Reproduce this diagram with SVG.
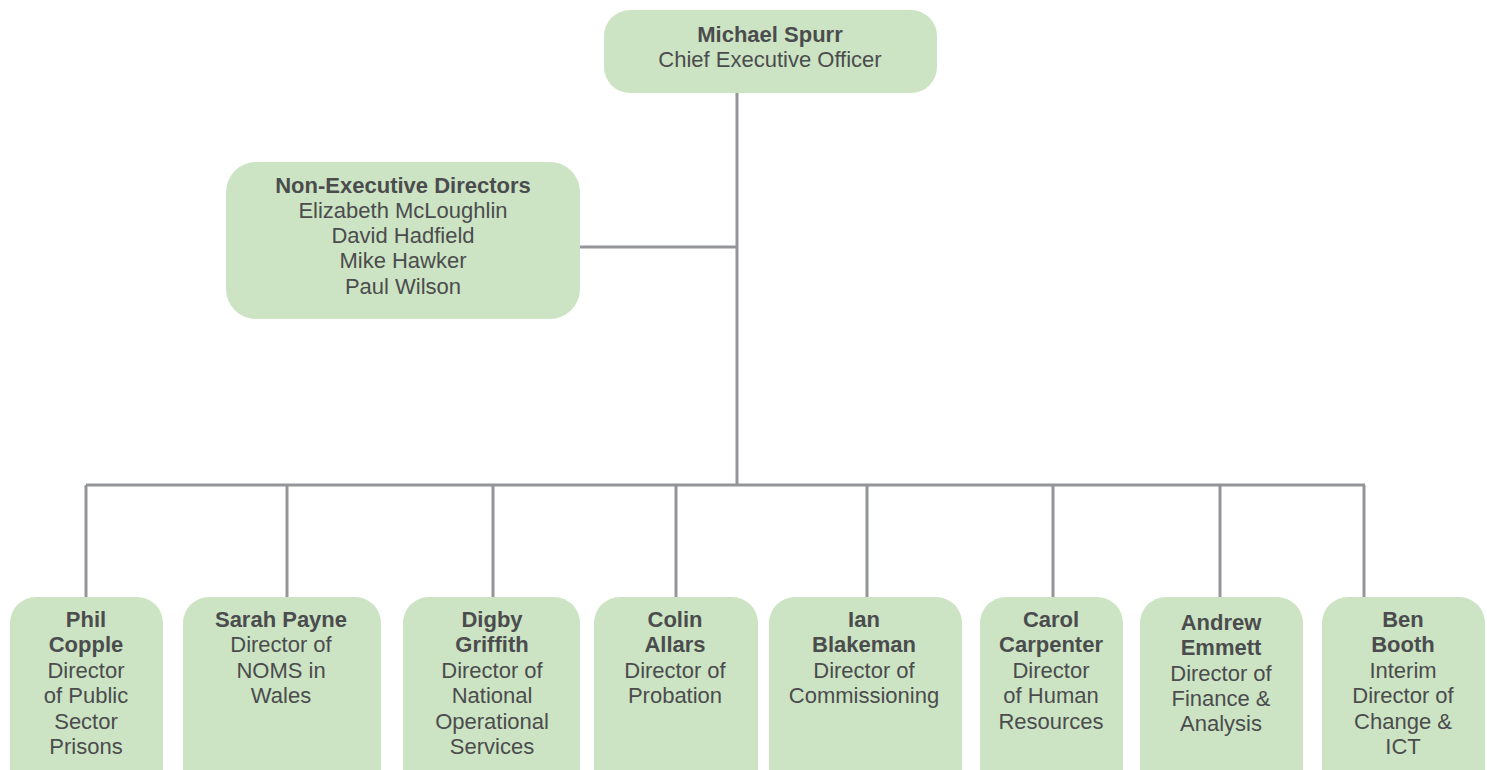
<svg xmlns="http://www.w3.org/2000/svg" width="1487" height="770" viewBox="0 0 1487 770">
<style>
.box{fill:#cce4c3;}
.t{font-family:"Liberation Sans",Arial,sans-serif;font-size:22px;fill:#4b4c4e;text-anchor:middle;}
.b{font-weight:bold;}
.ln{stroke:#939598;stroke-width:3;fill:none;}
</style>
<rect width="1487" height="770" fill="#ffffff"/>
<g id="connectors">
<path class="ln" d="M737 93 V485"/>
<path class="ln" d="M580 247 H737"/>
<path class="ln" d="M86 485 H1365"/>
<path class="ln" d="M86 485 V597 M287 485 V597 M493 485 V597 M676 485 V597 M867 485 V597 M1053 485 V597 M1220 485 V597 M1364 485 V597"/>
</g>
<g id="ceo">
<rect class="box" x="604" y="10" width="333" height="83" rx="26"/>
<text class="t b" x="770" y="42">Michael Spurr</text>
<text class="t" x="770" y="67">Chief Executive Officer</text>
</g>
<g id="ned">
<rect class="box" x="226" y="162" width="354" height="157" rx="30"/>
<text class="t b" x="403" y="193">Non-Executive Directors</text>
<text class="t" x="403" y="218">Elizabeth McLoughlin</text>
<text class="t" x="403" y="243">David Hadfield</text>
<text class="t" x="403" y="268">Mike Hawker</text>
<text class="t" x="403" y="294">Paul Wilson</text>
</g>
<g id="copple">
<rect class="box" x="10" y="597" width="153" height="200" rx="26"/>
<text class="t b" x="86" y="627">Phil</text>
<text class="t b" x="86" y="652">Copple</text>
<text class="t" x="86" y="678">Director</text>
<text class="t" x="86" y="703">of Public</text>
<text class="t" x="86" y="729">Sector</text>
<text class="t" x="86" y="754">Prisons</text>
</g>
<g id="payne">
<rect class="box" x="183" y="597" width="198" height="200" rx="26"/>
<text class="t b" x="281" y="627">Sarah Payne</text>
<text class="t" x="281" y="652">Director of</text>
<text class="t" x="281" y="678">NOMS in</text>
<text class="t" x="281" y="703">Wales</text>
</g>
<g id="griffith">
<rect class="box" x="403" y="597" width="177" height="200" rx="26"/>
<text class="t b" x="492" y="627">Digby</text>
<text class="t b" x="492" y="652">Griffith</text>
<text class="t" x="492" y="678">Director of</text>
<text class="t" x="492" y="703">National</text>
<text class="t" x="492" y="729">Operational</text>
<text class="t" x="492" y="754">Services</text>
</g>
<g id="allars">
<rect class="box" x="594" y="597" width="164" height="200" rx="26"/>
<text class="t b" x="675" y="627">Colin</text>
<text class="t b" x="675" y="652">Allars</text>
<text class="t" x="675" y="678">Director of</text>
<text class="t" x="675" y="703">Probation</text>
</g>
<g id="blakeman">
<rect class="box" x="769" y="597" width="193" height="200" rx="26"/>
<text class="t b" x="864" y="627">Ian</text>
<text class="t b" x="864" y="652">Blakeman</text>
<text class="t" x="864" y="678">Director of</text>
<text class="t" x="864" y="703">Commissioning</text>
</g>
<g id="carpenter">
<rect class="box" x="980" y="597" width="143" height="200" rx="26"/>
<text class="t b" x="1051" y="627">Carol</text>
<text class="t b" x="1051" y="652">Carpenter</text>
<text class="t" x="1051" y="678">Director</text>
<text class="t" x="1051" y="703">of Human</text>
<text class="t" x="1051" y="729">Resources</text>
</g>
<g id="emmett">
<rect class="box" x="1140" y="597" width="163" height="200" rx="26"/>
<text class="t b" x="1221" y="630">Andrew</text>
<text class="t b" x="1221" y="655">Emmett</text>
<text class="t" x="1221" y="681">Director of</text>
<text class="t" x="1221" y="706">Finance &amp;</text>
<text class="t" x="1221" y="731">Analysis</text>
</g>
<g id="booth">
<rect class="box" x="1322" y="597" width="163" height="200" rx="26"/>
<text class="t b" x="1403" y="627">Ben</text>
<text class="t b" x="1403" y="652">Booth</text>
<text class="t" x="1403" y="678">Interim</text>
<text class="t" x="1403" y="703">Director of</text>
<text class="t" x="1403" y="729">Change &amp;</text>
<text class="t" x="1403" y="754">ICT</text>
</g>
</svg>
